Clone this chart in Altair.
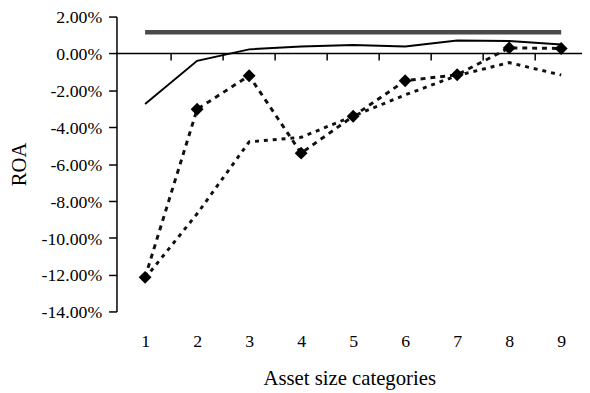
import altair as alt
import pandas as pd

# ---- data (ROA in %) ----
categories = [1, 2, 3, 4, 5, 6, 7, 8, 9]
benchmark = [1.15, 1.15, 1.15, 1.15, 1.15, 1.15, 1.15, 1.15, 1.15]
solid_series = [-2.75, -0.40, 0.22, 0.38, 0.46, 0.38, 0.70, 0.68, 0.48]
diamond_series = [-12.15, -3.03, -1.21, -5.41, -3.41, -1.48, -1.16, 0.30, 0.27]
dashed_series = [-12.20, -8.70, -4.80, -4.55, -3.40, -2.25, -1.20, -0.50, -1.17]
y_tick_values = [2, 0, -2, -4, -6, -8, -10, -12, -14]
category_boundaries = [1.5, 2.5, 3.5, 4.5, 5.5, 6.5, 7.5, 8.5]

W, H = 472, 299
FONT = "Liberation Serif"


def frame(values):
    return pd.DataFrame({"cat": categories, "val": values})


X = alt.X(
    "cat:Q",
    scale=alt.Scale(domain=[0.45, 9.4], nice=False, zero=False),
    axis=alt.Axis(
        values=categories, format="d", ticks=False, tickSize=0, domain=False,
        grid=False, labelPadding=22, title="Asset size categories",
        titlePadding=17, labelFontSize=18, titleFontSize=21,
        labelFont=FONT, titleFont=FONT, labelColor="black", titleColor="black",
        titleFontWeight="normal",
    ),
)
Y = alt.Y(
    "val:Q",
    scale=alt.Scale(domain=[-14, 2], nice=False, zero=False),
    axis=alt.Axis(
        values=y_tick_values, grid=False, tickSize=8, labelPadding=7,
        labelOffset=1.5,
        labelExpr="(datum.value < 0 ? '-' : '') + format(abs(datum.value), '.2f') + '%'",
        title="ROA", titlePadding=12, labelFontSize=18, titleFontSize=21,
        domainColor="black", tickColor="black", domainWidth=1.5, tickWidth=1.5,
        labelFont=FONT, titleFont=FONT, labelColor="black", titleColor="black",
        titleFontWeight="normal",
    ),
)

zero_line = alt.Chart(pd.DataFrame({"val": [0]})).mark_rule(
    color="black", strokeWidth=1.5
).encode(x=alt.value(0), x2=alt.value(W), y=Y)

tick_df = pd.DataFrame({
    "cat": category_boundaries,
    "val": [0] * len(category_boundaries),
    "val2": [-0.38] * len(category_boundaries),
})
zero_ticks = alt.Chart(tick_df).mark_rule(color="black", strokeWidth=1.5).encode(
    x=X, y=Y, y2="val2:Q"
)

bench_line = alt.Chart(frame(benchmark)).mark_line(
    color="#4a4a4a", strokeWidth=4.5
).encode(x=X, y=Y)

solid_line = alt.Chart(frame(solid_series)).mark_line(
    color="black", strokeWidth=2
).encode(x=X, y=Y)

dashed_line = alt.Chart(frame(dashed_series)).mark_line(
    color="#111111", strokeWidth=3, strokeDash=[4, 5]
).encode(x=X, y=Y)

diamond_line = alt.Chart(frame(diamond_series)).mark_line(
    color="#111111", strokeWidth=3, strokeDash=[5, 5]
).encode(x=X, y=Y)

diamond_pts = alt.Chart(frame(diamond_series)).mark_point(
    shape="diamond", filled=True, color="black", size=170, opacity=1
).encode(x=X, y=Y)

chart = alt.layer(
    zero_line, zero_ticks, bench_line, solid_line, dashed_line, diamond_line, diamond_pts
).properties(
    width=W, height=H,
    autosize=alt.AutoSizeParams(type="none"),
    padding={"left": 110, "top": 6, "right": 0, "bottom": 80},
    background="white",
).configure_view(stroke=None)

chart.save("out.html", embed_options={"renderer": "svg", "actions": False})
